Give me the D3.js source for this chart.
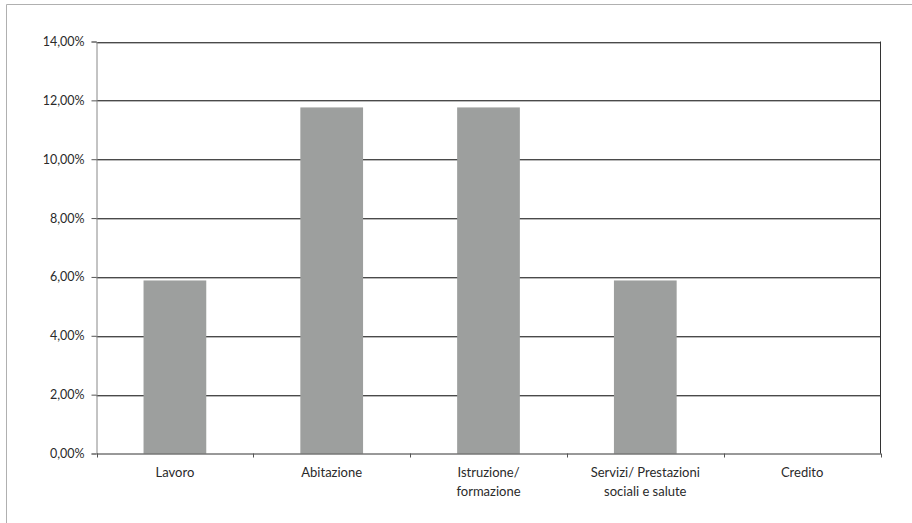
<!DOCTYPE html>
<html><head><meta charset="utf-8">
<script src="https://cdn.jsdelivr.net/npm/d3@7"></script>
<style>body{margin:0;background:#fff;}svg{display:block;font-family:Lato,"Open Sans",sans-serif;}</style>
</head><body>
<svg id="c" width="912" height="523"></svg>
<script>
const categories = ["Lavoro","Abitazione","Istruzione/\nformazione","Servizi/ Prestazioni\nsociali e salute","Credito"];
const values = [5.88, 11.76, 11.76, 5.88, 0];
const yTicks = [0,2,4,6,8,10,12,14];

const svg = d3.select("#c");
const W=912,H=523;
const m={left:96.5,right:880.5,top:41.5,bottom:453.5};

// outer frame
svg.append("line").attr("x1",6.5).attr("x2",W).attr("y1",4.5).attr("y2",4.5).attr("stroke","#b0b0b0");
svg.append("line").attr("x1",6.5).attr("x2",6.5).attr("y1",4.5).attr("y2",H).attr("stroke","#b0b0b0");

const x=d3.scaleBand().domain(categories).range([m.left,m.right]).paddingInner(0.6).paddingOuter(0.3);
const xb=d3.scaleBand().domain(categories).range([m.left,m.right]);
const y=d3.scaleLinear().domain([0,14]).range([m.bottom,m.top]);

// gridlines
svg.append("g").selectAll("line").data(yTicks.filter(d=>d>0)).join("line")
 .attr("x1",m.left).attr("x2",m.right).attr("y1",d=>Math.round(y(d))+0.5).attr("y2",d=>Math.round(y(d))+0.5)
 .attr("stroke","#4a4a4a").attr("stroke-width",1);
svg.append("g").selectAll("line").data(yTicks.filter(d=>d>0)).join("line")
 .attr("x1",m.left).attr("x2",m.right).attr("y1",d=>Math.round(y(d))+1.5).attr("y2",d=>Math.round(y(d))+1.5)
 .attr("stroke","#b8b8b8").attr("stroke-width",1);

// bars
svg.append("g").selectAll("rect").data(values).join("rect")
 .attr("x",(d,i)=>x(categories[i])).attr("width",x.bandwidth())
 .attr("y",d=>y(d)).attr("height",d=>y(0)-y(d)).attr("fill","#9d9f9e");

// right border
svg.append("line").attr("x1",m.right).attr("x2",m.right).attr("y1",m.top).attr("y2",m.bottom).attr("stroke","#333");

// y axis
const ya=svg.append("g").attr("transform",`translate(${m.left},0)`)
 .call(d3.axisLeft(y).tickValues(yTicks).tickSize(5).tickPadding(7).tickFormat(d=>d3.format(".2f")(d).replace(".",",")+"%"));
ya.select(".domain").attr("stroke","#888");
ya.selectAll(".tick line").attr("stroke","#555");
ya.selectAll("text").attr("font-size",12.5).attr("fill","#2a2a2a").attr("font-family","Lato,'Open Sans',sans-serif");

// x axis
const xa=svg.append("g").attr("transform",`translate(0,${m.bottom})`)
 .call(d3.axisBottom(xb).tickSize(0).tickFormat(""));
xa.select(".domain").attr("stroke","#333");
xa.selectAll(".tick").remove();
const bounds=categories.map(c=>xb(c)).concat([m.right]);
svg.append("g").selectAll("line").data(bounds).join("line")
 .attr("x1",d=>Math.round(d)+0.5).attr("x2",d=>Math.round(d)+0.5).attr("y1",m.bottom).attr("y2",m.bottom+4).attr("stroke","#555");

const lbl=svg.append("g").selectAll("text").data(categories).join("text")
 .attr("x",d=>xb(d)+xb.bandwidth()/2).attr("y",m.bottom+23)
 .attr("text-anchor","middle").attr("font-size",13).attr("fill","#2a2a2a");
lbl.each(function(d){
  const t=d3.select(this);
  d.split("\n").forEach((s,i)=>t.append("tspan").attr("x",xb(d)+xb.bandwidth()/2).attr("dy",i?19.5:0).text(s));
});
</script>
</body></html>
